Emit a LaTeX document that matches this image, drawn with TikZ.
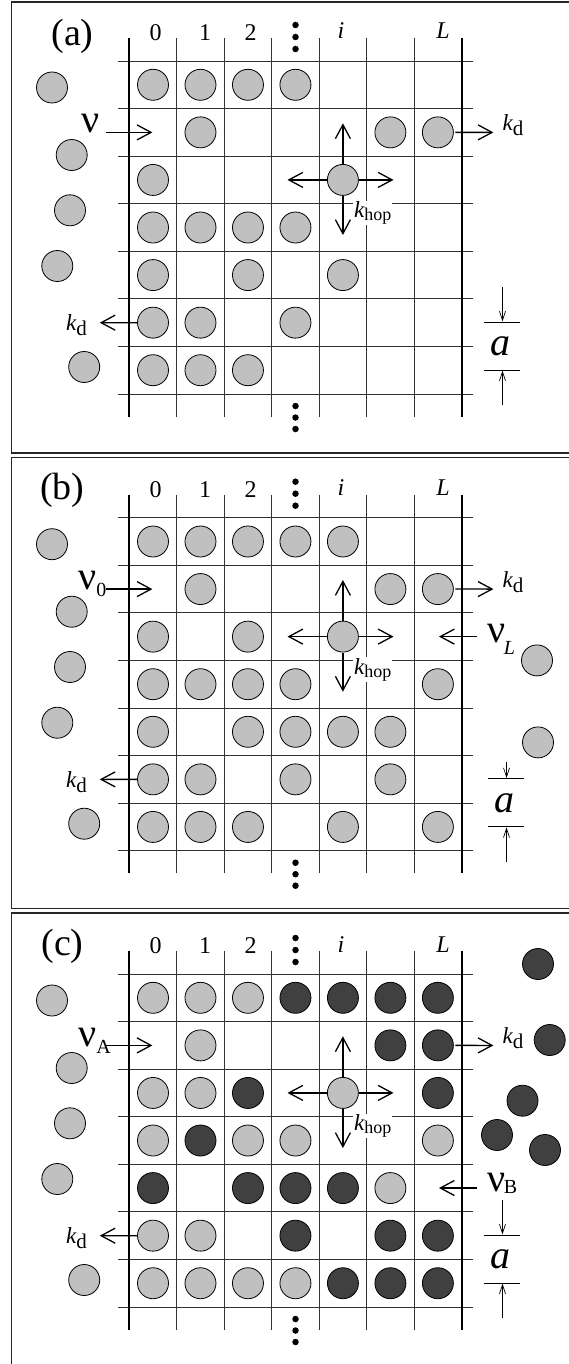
\documentclass[tikz,border=0pt]{standalone}
\usepackage{fontspec}
\setmainfont{Liberation Serif}
\usetikzlibrary{arrows.meta}
\definecolor{lightp}{HTML}{C0C0C0}
\definecolor{darkp}{HTML}{404040}
\newcommand\kdtext{{\itshape k}\raisebox{-5pt}{\fontsize{21}{21}\selectfont d}}
\newcommand\khoptext{{\itshape k}\raisebox{-3pt}{\fontsize{18}{18}\selectfont hop}}
\newcommand\nusub[3]{ν\kern#1\raisebox{#2}{\fontsize{20}{20}\selectfont #3}}
\tikzset{
 frame/.style={draw=black!85,line width=1.2pt},
 gridthin/.style={draw=black!80,line width=0.9pt},
 gridthick/.style={draw=black,line width=2.2pt},
 lc/.style={circle,draw=black,line width=0.8pt,fill=lightp,minimum size=31pt,inner sep=0pt},
 dc/.style={lc,fill=darkp},
 arr/.style={line width=1.3pt,-{Straight Barb[length=14pt,width=15pt,line width=1.3pt]}},
 sarr/.style={line width=0.7pt,-{Straight Barb[length=9pt,width=6pt,line width=0.7pt]}},
 sline/.style={line width=0.8pt},
 collab/.style={font=\fontsize{24}{24}\selectfont,inner sep=0pt,anchor=base},
 plab/.style={font=\fontsize{38}{38}\selectfont,inner sep=0pt},
 nulab/.style={font=\fontsize{40}{40}\selectfont,inner sep=0pt,anchor=base west},
 klab/.style={font=\fontsize{23}{23}\selectfont,inner sep=0pt,anchor=base west},
 alab/.style={font=\fontsize{40}{40}\selectfont\itshape,inner sep=0pt},
 dot/.style={circle,fill=black,minimum size=6.5pt,inner sep=0pt},
}
\newcommand\panelgrid[1]{%
 \foreach \k in {0,...,7} \draw[gridthin] (118.3,{47.57*\k}) -- (473.3,{47.57*\k});
 \foreach \k in {1,...,6} \draw[gridthin] ({129.3+47.48*\k},-22.7) -- ({129.3+47.48*\k},355.7);
 \draw[gridthick] (129.3,-22.7) -- (129.3,355.7);
 \draw[gridthick] (461.7,-22.7) -- (461.7,355.7);
 \node[collab] (#1-l0) at (155.5,-20.5) {0};
 \node[collab] (#1-l1) at (205,-20.5) {1};
 \node[collab] (#1-l2) at (250.5,-20.5) {2};
 \node[collab] (#1-li) at (341,-22) {\itshape i};
 \node[collab] (#1-lL) at (443,-22) {\itshape L};
 \node[dot] (#1-t1) at (295.5,-36) {};
 \node[dot] (#1-t2) at (295.5,-24) {};
 \node[dot] (#1-t3) at (295.5,-12) {};
 \node[dot] (#1-b1) at (295.5,345) {};
 \node[dot] (#1-b2) at (295.5,356.5) {};
 \node[dot] (#1-b3) at (295.5,368) {};
 \node[lc] (#1-o1) at (52,26.5) {};
 \node[lc] (#1-o2) at (71.7,94) {};
 \node[lc] (#1-o3) at (70,149.3) {};
 \node[lc] (#1-o4) at (57.3,205) {};
 \node[lc] (#1-o5) at (84.2,306) {};
 \node[lc] (#1-hop) at (342.9,118.9) {};
}
\newcommand\panelarrows[1]{%
 \node[klab,fill=white,inner sep=1pt] (#1-kh) at (353,156.5) {\khoptext};
 \coordinate (#1-hu) at (342.9,62.3);
 \coordinate (#1-hl) at (287.5,118.9);
 \coordinate (#1-hr) at (393.5,118.9);
 \coordinate (#1-hd) at (342.9,174);
 \draw[arr] (#1-hop.north) -- (#1-hu);
 \draw[arr] (#1-hop.west) -- (#1-hl);
 \draw[arr] (#1-hop.east) -- (#1-hr);
 \draw[arr] (#1-hop.south) -- (#1-hd);
 \coordinate (#1-nus) at (106.3,71.4);
 \coordinate (#1-nue) at (152.4,71.4);
 \draw[arr] (#1-nus) -- (#1-nue);
 \coordinate (#1-kre) at (493.4,71.4);
 \draw[arr,shorten <=1.5pt] (#1-6-1.east) -- (#1-kre);
 \node[klab] (#1-kr) at (502.5,69.5) {\kdtext};
 \coordinate (#1-kle) at (99.8,261.7);
 \draw[arr] (#1-0-5.west) -- (#1-kle);
 \node[klab] (#1-kl) at (66,269.5) {\kdtext};
}
\newcommand\scaleind[3]{%
 \coordinate (#1-st1) at ({484.4+#2},261);
 \coordinate (#1-st2) at ({519.6+#2},261);
 \draw[sline] (#1-st1) -- (#1-st2);
 \coordinate (#1-sb1) at ({484.4+#2},309);
 \coordinate (#1-sb2) at ({519.6+#2},309);
 \draw[sline] (#1-sb1) -- (#1-sb2);
 \coordinate (#1-da) at ({502.5+#2},#3);
 \coordinate (#1-db) at ({502.5+#2},260.3);
 \draw[sarr] (#1-da) -- (#1-db);
 \coordinate (#1-ua) at ({502.5+#2},344);
 \coordinate (#1-ub) at ({502.5+#2},309.7);
 \draw[sarr] (#1-ua) -- (#1-ub);
 \node[alab] (#1-a) at ({500.5+#2},285.5) {a};
}
\begin{document}
\begin{tikzpicture}[x=1pt,y=-1pt]
\useasboundingbox (0,0) rectangle (569,1364);
\fill[white] (0,0) rectangle (569,1364);
% ---------------- panel (a)
\begin{scope}[shift={(0,61)}]
 \draw[frame] (11.7,-59) rectangle (600,392);
 \panelgrid{a}
 \foreach \c/\r in {0/0,1/0,2/0,3/0,1/1,5/1,6/1,0/2,0/3,1/3,2/3,3/3,0/4,2/4,4/4,0/5,1/5,3/5,0/6,1/6,2/6}
  \node[lc] (a-\c-\r) at ({153+47.48*\c},{23.8+47.57*\r}) {};
 \panelarrows{a}
 \node[plab] (a-lab) at (72.5,-24.3) {(a)};
 \node[nulab] (a-nu) at (81,71.7) {ν};
 \scaleind{a}{0}{226}
\end{scope}
% ---------------- panel (b)
\begin{scope}[shift={(0,517.7)}]
 \draw[frame] (11.7,-60) rectangle (600,391);
 \panelgrid{b}
 \foreach \c/\r in {0/0,1/0,2/0,3/0,4/0,1/1,5/1,6/1,0/2,2/2,0/3,1/3,2/3,3/3,6/3,0/4,2/4,3/4,4/4,5/4,0/5,1/5,3/5,5/5,0/6,1/6,2/6,4/6,6/6}
  \node[lc] (b-\c-\r) at ({153+47.48*\c},{23.8+47.57*\r}) {};
 \panelarrows{b}
 \node[plab] (b-lab) at (62.5,-27) {(b)};
 \node[nulab] (b-nu) at (78,72) {\nusub{0pt}{-7pt}{0}};
 \node[lc] (b-r1) at (537,142.7) {};
 \node[lc] (b-r2) at (538,224.7) {};
 \coordinate (b-nLs) at (477,118.9);
 \coordinate (b-nLe) at (439,118.9);
 \draw[arr] (b-nLs) -- (b-nLe);
 \node[nulab] (b-nuL) at (487.5,125) {\nusub{-2pt}{-12pt}{\itshape L}};
 \scaleind{b}{4}{244}
\end{scope}
% ---------------- panel (c)
\begin{scope}[shift={(0,974)}]
 \draw[frame] (11.7,-61) rectangle (600,420);
 \panelgrid{c}
 \foreach \c/\r in {0/0,1/0,2/0,1/1,0/2,1/2,0/3,2/3,3/3,6/3,5/4,0/5,1/5,0/6,1/6,2/6,3/6}
  \node[lc] (c-\c-\r) at ({153+47.48*\c},{23.8+47.57*\r}) {};
 \foreach \c/\r in {3/0,4/0,5/0,6/0,5/1,6/1,2/2,6/2,1/3,0/4,2/4,3/4,4/4,3/5,5/5,6/5,4/6,5/6,6/6}
  \node[dc] (c-\c-\r) at ({153+47.48*\c},{23.8+47.57*\r}) {};
 \panelarrows{c}
 \node[plab] (c-lab) at (62.5,-28) {(c)};
 \node[nulab] (c-nu) at (78,72.7) {\nusub{0pt}{-7pt}{A}};
 \node[dc] (c-r1) at (538,-10) {};
 \node[dc] (c-r2) at (549.7,66) {};
 \node[dc] (c-r3) at (522.5,126.7) {};
 \node[dc] (c-r4) at (497,161) {};
 \node[dc] (c-r5) at (545,176) {};
 \coordinate (c-nBs) at (477,214);
 \coordinate (c-nBe) at (439,214);
 \draw[arr] (c-nBs) -- (c-nBe);
 \node[nulab] (c-nuB) at (487.5,217.7) {\nusub{-2pt}{-2pt}{B}};
 \scaleind{c}{0}{226}
\end{scope}
\end{tikzpicture}
\end{document}
